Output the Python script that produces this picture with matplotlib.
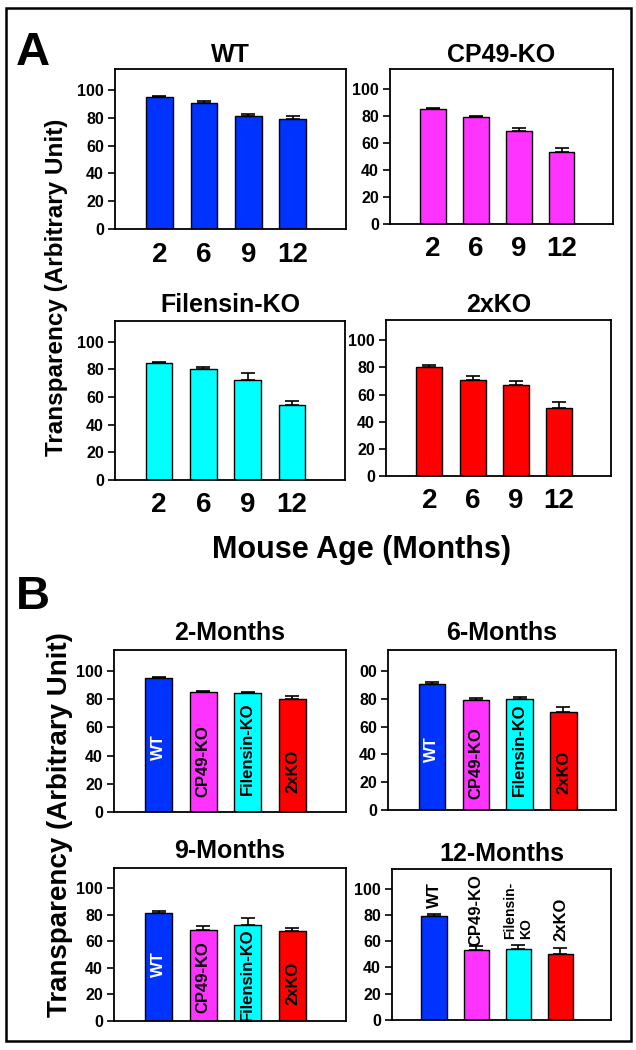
import numpy as np
import matplotlib
matplotlib.use('Agg')
import matplotlib.pyplot as plt
from matplotlib.patches import Rectangle

plt.rcParams['font.family'] = ['Liberation Sans', 'DejaVu Sans']
plt.rcParams['font.weight'] = 'bold'

# 数据：透明度（任意单位），按基因型 × 月龄
ages = ['2', '6', '9', '12']
genotypes = ['WT', 'CP49-KO', 'Filensin-KO', '2xKO']
wt_mean = [95.2, 90.4, 81.0, 78.9]
wt_err = [0.5, 1.5, 1.5, 2.0]
cp49_mean = [85.0, 79.1, 68.7, 53.4]
cp49_err = [0.7, 1.2, 2.7, 3.2]
fil_mean = [84.4, 80.1, 72.4, 54.4]
fil_err = [1.0, 1.4, 5.3, 2.6]
dko_mean = [80.3, 70.7, 67.3, 50.1]
dko_err = [1.7, 3.0, 2.5, 4.4]

means = [wt_mean, cp49_mean, fil_mean, dko_mean]
errs = [wt_err, cp49_err, fil_err, dko_err]
colors = ['#0033FF', '#FF33FF', '#00FFFF', '#FF0000']

W, H = 636, 1050


def rect(x0, x1, y0, y1):
    return [x0 / W, 1 - y1 / H, (x1 - x0) / W, (y1 - y0) / H]


def style_axes(ax, yticklabels=None):
    ax.set_xlim(-1.0, 4.2)
    ax.set_ylim(0, 115)
    ax.set_yticks([0, 20, 40, 60, 80, 100])
    if yticklabels is not None:
        ax.set_yticklabels(yticklabels)
    for sp in ax.spines.values():
        sp.set_linewidth(1.3)
    ax.tick_params(axis='y', direction='out', length=5, width=1.2, pad=3, labelsize=11.5)
    for lab in ax.get_yticklabels():
        lab.set_fontweight('bold')


def draw_bars(ax, vals, err, cols):
    x = np.arange(len(vals))
    ax.bar(x, vals, width=0.6, color=cols, edgecolor='black', linewidth=1.0, zorder=2)
    ax.errorbar(x, vals, yerr=[np.zeros(len(err)), err], fmt='none', ecolor='black',
                elinewidth=1.2, capsize=5, capthick=1.2, zorder=3)


def title(ax, text, baseline):
    b = ax.get_position()
    fig.text(b.x0 + b.width / 2, 1 - baseline / H, text, ha='center', va='baseline',
             fontsize=18, fontweight='bold')


fig = plt.figure(figsize=(6.36, 10.5), dpi=100)

# 外框
fig.patches.append(Rectangle((6 / W, 1 - 1041 / H), 625 / W, 1033 / H, transform=fig.transFigure,
                             fill=False, edgecolor='black', linewidth=1.8))

# ---------- A: 各基因型随月龄变化 ----------
a_rects = [rect(115, 346, 69, 229), rect(390, 613, 69, 224),
           rect(115, 345, 321, 480), rect(386, 611, 320, 476)]
a_title_base = [62, 62, 312, 312]
for i in range(4):
    ax = fig.add_axes(a_rects[i])
    draw_bars(ax, means[i], errs[i], colors[i])
    style_axes(ax)
    ax.set_xticks(np.arange(4), ages)
    ax.tick_params(axis='x', length=0, pad=9, labelsize=20)
    for lab in ax.get_xticklabels():
        lab.set_fontweight('bold')
    title(ax, genotypes[i], a_title_base[i])

fig.text(16 / W, 1 - 65 / H, 'A', fontsize=34, fontweight='bold', ha='left', va='baseline')
fig.text(57 / W, 1 - 287 / H, 'Transparency (Arbitrary Unit)', rotation=90, ha='center',
         va='center', fontsize=17.5, fontweight='bold')
fig.text(362 / W, 1 - 558 / H, 'Mouse Age (Months)', ha='center', va='baseline',
         fontsize=22, fontweight='bold')

# ---------- B: 各月龄基因型对比 ----------
b_rects = [rect(114, 346, 650, 812), rect(388, 616, 650, 810),
           rect(114, 346, 868, 1021), rect(392, 611, 869, 1020)]
b_titles = ['2-Months', '6-Months', '9-Months', '12-Months']
b_title_base = [640, 640, 858, 861]
inside_y = [[46, 36, 45, 29], [44, 34, 43, 27], [43, 33, 35, 28]]
label_colors = ['white', 'black', 'black', 'black']

for j in range(4):
    ax = fig.add_axes(b_rects[j])
    vals = [m[j] for m in means]
    err = [e[j] for e in errs]
    draw_bars(ax, vals, err, colors)
    if j == 1:
        style_axes(ax, ['0', '20', '40', '60', '80', '00'])
    else:
        style_axes(ax)
    ax.set_xticks([])
    title(ax, b_titles[j], b_title_base[j])
    if j < 3:
        for k, g in enumerate(genotypes):
            ax.text(k, inside_y[j][k], g, rotation=90, ha='center', va='center',
                    color=label_colors[k], fontsize=12, fontweight='bold', zorder=4)
    else:
        top_labels = ['WT', 'CP49-KO', 'Filensin-\nKO', '2xKO']
        top_y = [85, 56, 62, 60]
        top_size = [12, 12, 10, 12]
        for k, g in enumerate(top_labels):
            ax.text(k, top_y[k], g, rotation=90, ha='center', va='bottom',
                    multialignment='left', color='black', fontsize=top_size[k],
                    fontweight='bold', zorder=4)

fig.text(16 / W, 1 - 609 / H, 'B', fontsize=34, fontweight='bold', ha='left', va='baseline')
fig.text(60 / W, 1 - 825 / H, 'Transparency (Arbitrary Unit)', rotation=90, ha='center',
         va='center', fontsize=20, fontweight='bold')

fig.savefig('out.png', dpi=100)
